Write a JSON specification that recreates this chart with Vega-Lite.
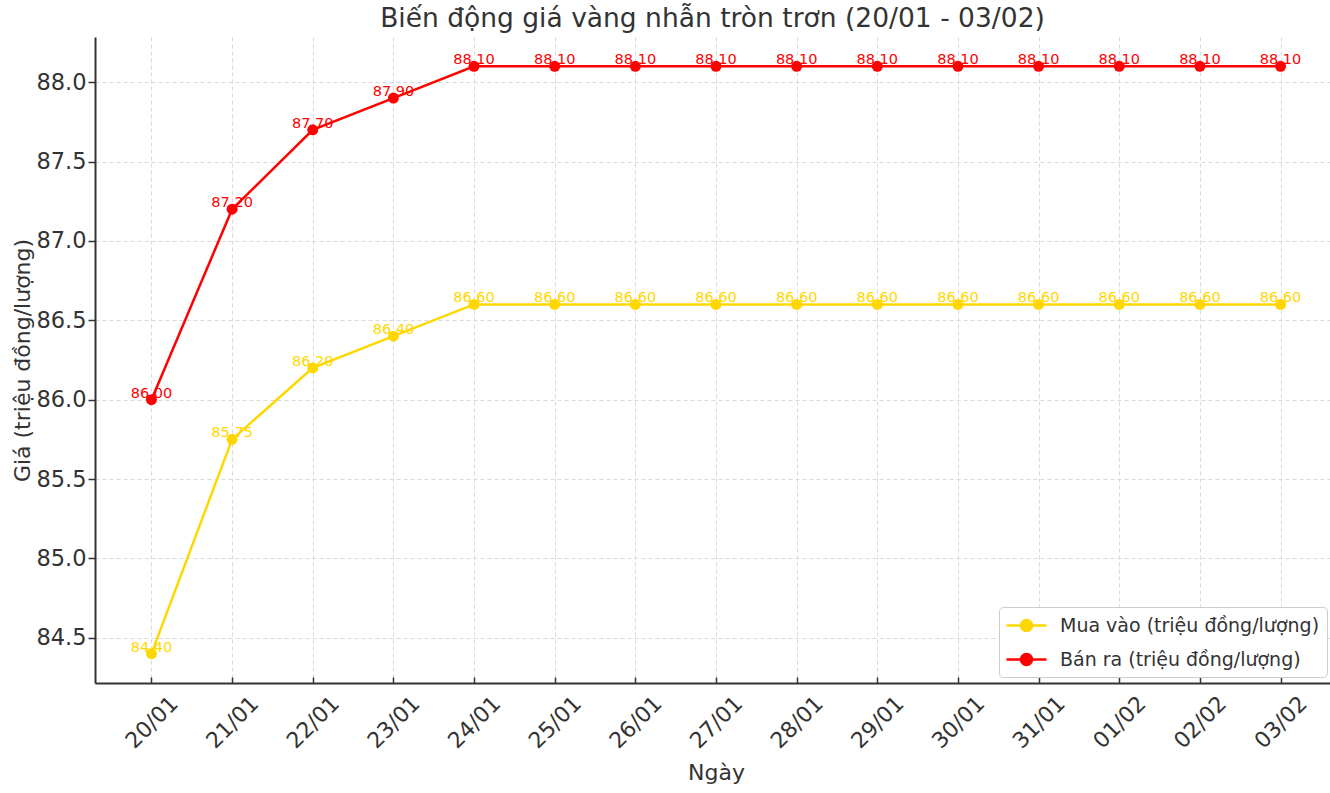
{
  "$schema": "https://vega.github.io/schema/vega-lite/v6.json",
  "autosize": {"type": "none"},
  "padding": {"left": 95, "top": 37, "right": 0, "bottom": 110},
  "width": 1235,
  "height": 646,
  "background": "white",
  "title": {"text": "Biến động giá vàng nhẫn tròn trơn (20/01 - 03/02)", "fontSize": 26.5, "font": "DejaVu Sans", "fontWeight": "normal", "color": "#333333", "anchor": "middle", "offset": 5},
  "data": {"values": [
    {"date": "20/01", "series": "Mua vào (triệu đồng/lượng)", "value": 84.40},
    {"date": "21/01", "series": "Mua vào (triệu đồng/lượng)", "value": 85.75},
    {"date": "22/01", "series": "Mua vào (triệu đồng/lượng)", "value": 86.20},
    {"date": "23/01", "series": "Mua vào (triệu đồng/lượng)", "value": 86.40},
    {"date": "24/01", "series": "Mua vào (triệu đồng/lượng)", "value": 86.60},
    {"date": "25/01", "series": "Mua vào (triệu đồng/lượng)", "value": 86.60},
    {"date": "26/01", "series": "Mua vào (triệu đồng/lượng)", "value": 86.60},
    {"date": "27/01", "series": "Mua vào (triệu đồng/lượng)", "value": 86.60},
    {"date": "28/01", "series": "Mua vào (triệu đồng/lượng)", "value": 86.60},
    {"date": "29/01", "series": "Mua vào (triệu đồng/lượng)", "value": 86.60},
    {"date": "30/01", "series": "Mua vào (triệu đồng/lượng)", "value": 86.60},
    {"date": "31/01", "series": "Mua vào (triệu đồng/lượng)", "value": 86.60},
    {"date": "01/02", "series": "Mua vào (triệu đồng/lượng)", "value": 86.60},
    {"date": "02/02", "series": "Mua vào (triệu đồng/lượng)", "value": 86.60},
    {"date": "03/02", "series": "Mua vào (triệu đồng/lượng)", "value": 86.60},
    {"date": "20/01", "series": "Bán ra (triệu đồng/lượng)", "value": 86.00},
    {"date": "21/01", "series": "Bán ra (triệu đồng/lượng)", "value": 87.20},
    {"date": "22/01", "series": "Bán ra (triệu đồng/lượng)", "value": 87.70},
    {"date": "23/01", "series": "Bán ra (triệu đồng/lượng)", "value": 87.90},
    {"date": "24/01", "series": "Bán ra (triệu đồng/lượng)", "value": 88.10},
    {"date": "25/01", "series": "Bán ra (triệu đồng/lượng)", "value": 88.10},
    {"date": "26/01", "series": "Bán ra (triệu đồng/lượng)", "value": 88.10},
    {"date": "27/01", "series": "Bán ra (triệu đồng/lượng)", "value": 88.10},
    {"date": "28/01", "series": "Bán ra (triệu đồng/lượng)", "value": 88.10},
    {"date": "29/01", "series": "Bán ra (triệu đồng/lượng)", "value": 88.10},
    {"date": "30/01", "series": "Bán ra (triệu đồng/lượng)", "value": 88.10},
    {"date": "31/01", "series": "Bán ra (triệu đồng/lượng)", "value": 88.10},
    {"date": "01/02", "series": "Bán ra (triệu đồng/lượng)", "value": 88.10},
    {"date": "02/02", "series": "Bán ra (triệu đồng/lượng)", "value": 88.10},
    {"date": "03/02", "series": "Bán ra (triệu đồng/lượng)", "value": 88.10}
  ]},
  "encoding": {
    "x": {
      "field": "date", "type": "ordinal", "sort": null,
      "scale": {"type": "point", "range": [0, 1242], "padding": 0.7},
      "axis": {
        "title": "Ngày", "titleFontSize": 22, "titleFont": "DejaVu Sans", "titleFontWeight": "normal", "titleColor": "#333333", "titlePadding": 10,
        "labelAngle": -45, "labelAlign": "center", "labelBaseline": "middle", "labelFontSize": 22, "labelFont": "DejaVu Sans", "labelColor": "#333333",
        "labelPadding": 45, "labelOverlap": false, "labelFlush": false,
        "tickSize": -6, "tickColor": "#333333", "tickWidth": 1.5,
        "domainColor": "#333333", "domainWidth": 2,
        "grid": true, "gridColor": "#d9d9d9", "gridDash": [4, 3], "gridWidth": 1
      }
    },
    "y": {
      "field": "value", "type": "quantitative",
      "scale": {"domain": [84.215, 88.285], "nice": false, "zero": false},
      "axis": {
        "title": "Giá (triệu đồng/lượng)", "titleFontSize": 22, "titleFont": "DejaVu Sans", "titleFontWeight": "normal", "titleColor": "#333333", "titlePadding": 1,
        "values": [84.5, 85, 85.5, 86, 86.5, 87, 87.5, 88], "format": ".1f",
        "labelFontSize": 22.5, "labelFont": "DejaVu Sans", "labelColor": "#333333", "labelPadding": 2, "labelOverlap": false, "labelFlush": false,
        "tickSize": 7, "tickColor": "#333333", "tickWidth": 1.5,
        "domainColor": "#333333", "domainWidth": 2,
        "grid": true, "gridColor": "#d9d9d9", "gridDash": [4, 3], "gridWidth": 1
      }
    },
    "color": {
      "field": "series", "type": "nominal",
      "scale": {"domain": ["Mua vào (triệu đồng/lượng)", "Bán ra (triệu đồng/lượng)"], "range": ["#FFD700", "#FF0000"]},
      "legend": {
        "title": null, "orient": "none", "legendX": 904, "legendY": 570,
        "symbolType": "M-2,0L2,0M0.55,0A0.55,0.55,0,1,1,-0.55,0A0.55,0.55,0,1,1,0.55,0Z",
        "symbolSize": 400, "symbolStrokeWidth": 2.5, "symbolOffset": 9,
        "labelFontSize": 19, "labelFont": "DejaVu Sans", "labelColor": "#333333", "labelOffset": 22, "labelLimit": 400,
        "padding": 7, "rowPadding": 12, "strokeColor": "#cccccc", "fillColor": "white", "cornerRadius": 4,
        "encode": {"symbols": {"update": {"fill": {"scale": "color", "field": "value"}, "stroke": {"scale": "color", "field": "value"}, "opacity": {"value": 1}}}}
      }
    }
  },
  "layer": [
    {"mark": {"type": "line", "strokeWidth": 2.5}},
    {"mark": {"type": "point", "filled": true, "size": 121, "opacity": 1, "shape": "circle"}},
    {"mark": {"type": "text", "dy": -2, "fontSize": 14.5, "font": "DejaVu Sans", "baseline": "alphabetic", "align": "center"},
     "encoding": {"text": {"field": "value", "type": "quantitative", "format": ".2f"}}}
  ],
  "config": {"view": {"stroke": null}}
}
